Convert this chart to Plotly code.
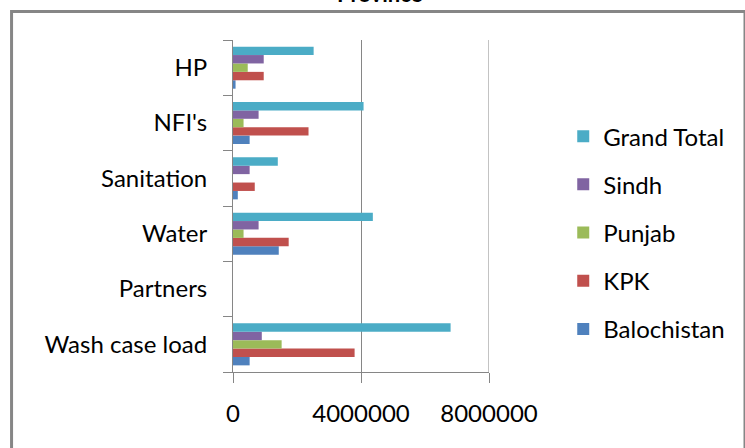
import plotly.graph_objects as go

# Activity categories (bottom to top on the vertical axis)
categories = ["Wash case load", "Partners", "Water", "Sanitation", "NFI's", "HP"]

# Values per province
balochistan = [520000, 0, 1430000, 150000, 520000, 80000]
kpk = [3800000, 0, 1740000, 680000, 2360000, 960000]
punjab = [1520000, 0, 330000, 0, 330000, 460000]
sindh = [900000, 0, 800000, 520000, 800000, 960000]
grand_total = [6800000, 0, 4370000, 1400000, 4080000, 2520000]

series_names = ["Balochistan", "KPK", "Punjab", "Sindh", "Grand Total"]
series_values = [balochistan, kpk, punjab, sindh, grand_total]
series_colors = ["#4F81BD", "#C0504D", "#9BBB59", "#8064A2", "#4BACC6"]

x_ticks = [0, 4000000, 8000000]
x_tick_labels = ["0", "4000000", "8000000"]

axis_grey = "#868686"
font_family = "Lato, Noto Sans, sans-serif"

fig = go.Figure()
n = len(series_names)
for i, (name, vals, col) in enumerate(zip(series_names, series_values, series_colors)):
    fig.add_trace(go.Bar(
        y=categories, x=vals, name=name, orientation="h",
        marker=dict(color=col, line=dict(width=0)),
        legendgroup=name, legendrank=n - i,  # last series listed first
    ))

# Gridline at the far end of the value axis (Plotly skips the one on the edge)
grid_shapes = [dict(
    type="line", xref="x", yref="paper", x0=x_ticks[-1], x1=x_ticks[-1],
    y0=0, y1=1, line=dict(color=axis_grey, width=1), layer="below",
)]

# Outer chart border
frame = [dict(
    type="rect", xref="paper", yref="paper",
    x0=-0.865, x1=2.0, y0=-1.0, y1=1.086,
    line=dict(color=axis_grey, width=3), fillcolor="rgba(0,0,0,0)",
    layer="below",
)]

fig.update_layout(
    width=745, height=448,
    margin=dict(l=233, r=256, t=40, b=76),
    paper_bgcolor="white", plot_bgcolor="white",
    barmode="group", bargap=0.24, bargroupgap=0,
    font=dict(family=font_family, size=24, color="black"),
    showlegend=True,
    legend=dict(
        x=1.29, xanchor="left", y=0.42, yanchor="middle",
        traceorder="grouped", tracegroupgap=14,
        font=dict(family=font_family, size=24, color="black"),
        bgcolor="rgba(0,0,0,0)",
    ),
    xaxis=dict(
        range=[0, 8000000], tickvals=x_ticks, ticktext=x_tick_labels,
        showgrid=True, gridcolor=axis_grey, gridwidth=1,
        showline=True, linecolor=axis_grey, linewidth=1,
        ticks="outside", ticklen=10, tickcolor=axis_grey, tickwidth=1,
        ticklabelstandoff=10, zeroline=False,
        tickfont=dict(family=font_family, size=24),
    ),
    yaxis=dict(
        type="category", categoryorder="array", categoryarray=categories,
        showgrid=False, showline=True, linecolor=axis_grey, linewidth=1,
        ticks="outside", ticklen=9, tickcolor=axis_grey, tickwidth=1,
        tickson="boundaries", ticklabelstandoff=20,
        tickfont=dict(family=font_family, size=24),
    ),
    shapes=grid_shapes + frame,
    annotations=[dict(
        text="<b>Province</b>", xref="paper", yref="paper",
        x=0.574, y=1.14, xanchor="center", yanchor="middle",
        showarrow=False, font=dict(family=font_family, size=22, color="black"),
    )],
)

fig.write_html("out.html")
